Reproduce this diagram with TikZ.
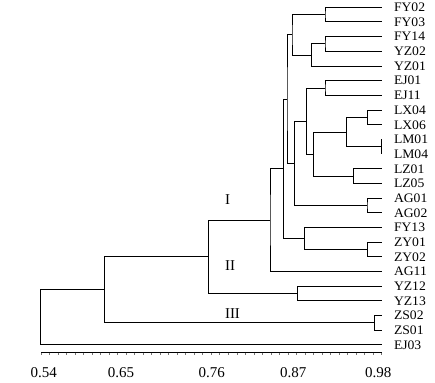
\documentclass[tikz,border=0pt]{standalone}
\usepackage{fontspec}
\setmainfont{Liberation Serif}
\newfontfamily\leaffont[FakeStretch=1.05]{Liberation Serif}
\begin{document}
\begin{tikzpicture}[x=1pt,y=-1pt,
  br/.style={line width=1pt, line join=miter},
  leaf/.style={anchor=west, inner sep=0pt, font=\leaffont\fontsize{13}{15}\selectfont, text height=8.6pt, text depth=0pt},
  ticklab/.style={inner sep=0pt, font=\fontsize{15}{17}\selectfont, text height=10.1pt, text depth=0pt},
  roman/.style={anchor=west, inner sep=0pt, font=\fontsize{15}{17}\selectfont, text height=9.9pt, text depth=0pt},
  minortick/.style={line width=0.8pt, black!55}]
\useasboundingbox (0,0) rectangle (435,382);
% leaves
\foreach \n [count=\i from 0] in {FY02,FY03,FY14,YZ02,YZ01,EJ01,EJ11,LX04,LX06,LM01,LM04,LZ01,LZ05,AG01,AG02,FY13,ZY01,ZY02,AG11,YZ12,YZ13,ZS02,ZS01,EJ03}{
  \coordinate (\n) at (381.7,{7.3+14.68*\i});
  \node[leaf] (t\n) at (393.8,{7.3+14.68*\i}) {\n};
}
% join points
\coordinate (a1) at (325,14.64);
\coordinate (a2) at (325,44.0);
\coordinate (a3) at (311.3,55.01);
\coordinate (a4) at (292,34.83);
\coordinate (b1) at (325,88.04);
\coordinate (b2) at (367.3,117.4);
\coordinate (b3) at (381.7,146.76);
\coordinate (b4) at (346.7,132.08);
\coordinate (b5) at (353.3,176.12);
\coordinate (b6) at (313.3,154.1);
\coordinate (b7) at (306.7,121.07);
\coordinate (c1) at (367,205.48);
\coordinate (b8) at (294.3,163.28);
\coordinate (a5) at (287,99.05);
\coordinate (d1) at (367.3,249.52);
\coordinate (d2) at (304.3,238.51);
\coordinate (a6) at (283.3,168.78);
\coordinate (a7) at (270,220.16);
\coordinate (e1) at (297.3,293.56);
\coordinate (e2) at (208.3,256.86);
\coordinate (f1) at (374.3,322.92);
\coordinate (f2) at (104.3,289.89);
\coordinate (g) at (40.7,317.4);
% branches
\draw[br] (FY02) -| (a1) |- (FY03);
\draw[br] (FY14) -| (a2) |- (YZ02);
\draw[br] (a2) -| (a3) |- (YZ01);
\draw[br] (a1) -| (a4) |- (a3);
\draw[br] (EJ01) -| (b1) |- (EJ11);
\draw[br] (LX04) -| (b2) |- (LX06);
\draw[br] (LM01) -- (b3) -- (LM04);
\draw[br] (b2) -| (b4) |- (b3);
\draw[br] (LZ01) -| (b5) |- (LZ05);
\draw[br] (b4) -| (b6) |- (b5);
\draw[br] (b1) -| (b7) |- (b6);
\draw[br] (AG01) -| (c1) |- (AG02);
\draw[br] (b7) -| (b8) |- (c1);
\draw[br] (a4) -| (a5) |- (b8);
\draw[br] (ZY01) -| (d1) |- (ZY02);
\draw[br] (FY13) -| (d2) |- (d1);
\draw[br] (a5) -| (a6) |- (d2);
\draw[br] (a6) -| (a7) |- (AG11);
\draw[br] (YZ12) -| (e1) |- (YZ13);
\draw[br] (a7) -| (e2) |- (e1);
\draw[br] (ZS02) -| (f1) |- (ZS01);
\draw[br] (e2) -| (f2) |- (f1);
\draw[br] (f2) -| (g) |- (EJ03);
% cluster labels
\node[roman] (r1) at (224.8,200) {I};
\node[roman] (r2) at (224.8,266) {II};
\node[roman] (r3) at (224.8,313.3) {III};
% axis
\coordinate (ax0) at (41,352);
\coordinate (ax1) at (381.7,352);
\draw[br] (ax0) -- (ax1);
\foreach \k in {0,...,40}{
  \draw[minortick] ({41+8.5175*\k},352.5) -- ++(0,2.8);
}
\node[ticklab] (l1) at (43.7,372.7) {0.54};
\node[ticklab] (l2) at (121,372.7) {0.65};
\node[ticklab] (l3) at (211.7,372.7) {0.76};
\node[ticklab] (l4) at (293.3,372.7) {0.87};
\node[ticklab] (l5) at (378.3,372.7) {0.98};
\end{tikzpicture}
\end{document}
